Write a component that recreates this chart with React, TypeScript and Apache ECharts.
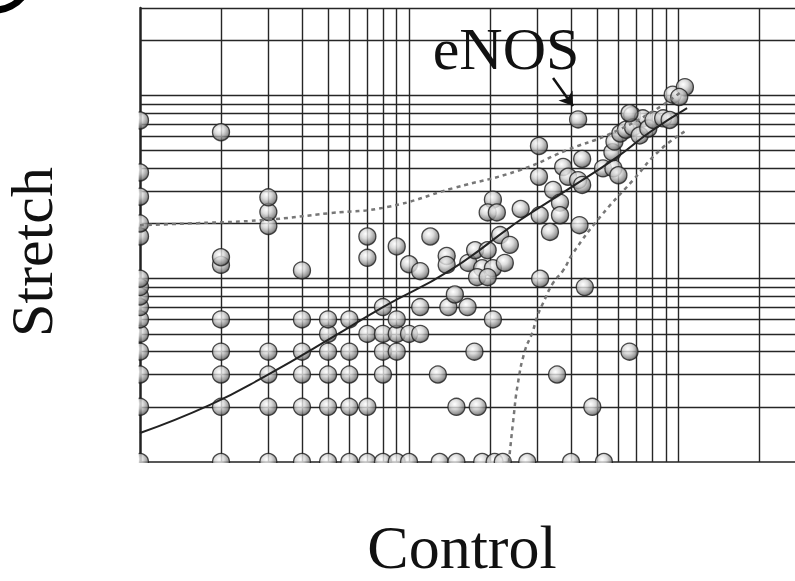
import React, { useEffect, useRef } from "react";
import * as echarts from "echarts";

// Log-grid lines (data values)
const xGridValues = [2, 3, 4, 5, 6, 7, 8, 9, 10, 20, 30, 40, 50, 60, 70, 80, 90, 100, 200];
const yGridValues = [2, 3, 4, 5, 6, 7, 8, 9, 10, 20, 30, 40, 50, 60, 70, 80, 90, 100, 200, 300];

// Points on the bottom row (Stretch = 1)
const bottomRowX = [1, 2, 3, 4, 5, 6, 7, 8, 9, 10, 13, 15, 18.7, 20.8, 22.3, 27.5, 40, 53];

// Columns of points at integer Control values: [x, list of Stretch values]
const columnX = [1, 2, 3, 4, 5, 6, 7, 8, 9, 10, 11];
const columnY: number[][] = [
  [2, 3, 4, 5, 6, 7, 8, 9, 10, 17, 20, 28, 38, 73],
  [2, 3, 4, 6, 11.9, 13.1, 63],
  [2, 3, 4, 19.4, 23.1, 27.8],
  [2, 3, 4, 6, 11.1],
  [2, 3, 4, 5, 6],
  [2, 3, 4, 6],
  [2, 5, 13, 17],
  [3, 4, 5, 7],
  [4, 5, 6, 15],
  [5, 12],
  [5, 7, 11],
];

// Remaining genes
const otherPoints: [number, number][] = [
  [12, 17], [12.8, 3], [13.8, 13.3], [13.8, 11.9], [14, 7], [14.8, 8.2], [15, 2],
  [16.5, 7], [16.6, 12.2], [17.5, 4], [17.6, 14.3], [18, 2], [19.6, 14.3],
  [18.7, 11.4], [20.5, 11.4], [22.7, 12.2], [17.9, 10.2], [19.6, 10.2],
  [21.8, 17.3], [23.7, 15.3], [20.5, 27], [19.6, 23], [21.2, 23], [26, 24], [20.5, 6],
  [30.4, 53], [30.4, 36], [34.3, 30.5], [36.4, 26], [36.4, 22.2], [30.6, 22.2],
  [33.4, 18], [43, 19.6], [44, 45], [37.4, 40.7], [39, 36], [42.5, 34.5], [44, 32.5],
  [52.6, 40], [57.5, 40], [60, 36.7], [57, 49], [58, 56], [61, 62], [64, 65],
  [67.5, 78], [74, 75], [68, 67], [72, 60.5], [77.5, 66], [81, 73.5], [88, 75],
  [93, 73.5], [95.5, 101], [106, 111], [101, 98], [66, 80],
  [30.7, 10], [45, 9], [66, 4], [35.5, 3], [48, 2],
];

// eNOS gene
const enosPoint: [number, number] = [42.5, 74];
const arrowFrom: [number, number] = [34.3, 124.5];
const arrowTo: [number, number] = [40.7, 87.5];

// Fit curve and confidence bands
const fitCurve: [number, number][] = [
  [1, 1.44], [1.82, 2.05], [2.97, 2.98], [5.22, 4.81], [8, 7], [14.2, 11.1],
  [25.9, 20.9], [38.7, 30.5], [59.3, 46.1], [78.7, 63.2], [108, 85.3],
];
const upperBand: [number, number][] = [
  [1, 19.6], [1.63, 20.1], [2.87, 20.9], [5.09, 22.8], [8.28, 24.6], [14.6, 31.2],
  [25.9, 39.2], [38.7, 50.4], [54.5, 60.8], [78.7, 80.2], [102, 104],
];
const lowerBand: [number, number][] = [
  [23.5, 1.0], [24.4, 1.69], [25.4, 2.7], [27, 4.08], [28.7, 5.06], [29.9, 6.18],
  [31.5, 7.37], [34.3, 9.48], [37.4, 11.1], [40.7, 13.8], [51.3, 21.7], [68, 34.5],
  [85.7, 50.4], [108, 64.7],
];

const X_MIN = 1;
const X_MAX = 272;
const Y_MIN = 1;
const Y_MAX = 300;

const FONT = "'Liberation Serif', 'DejaVu Serif', serif";

export default function App() {
  const ref = useRef<HTMLDivElement>(null);

  useEffect(() => {
    document.body.style.margin = "0";
    if (!ref.current) return;
    const chart = echarts.init(ref.current, undefined, { renderer: "svg" });

    const points: [number, number][] = [];
    bottomRowX.forEach((x) => points.push([x, 1]));
    columnX.forEach((x, i) => columnY[i].forEach((y) => points.push([x, y])));
    otherPoints.forEach((p) => points.push(p));
    points.push(enosPoint);

    const sphere = new echarts.graphic.RadialGradient(0.4, 0.34, 0.7, [
      { offset: 0, color: "#ffffff" },
      { offset: 0.4, color: "#d4d4d4" },
      { offset: 0.8, color: "#7e7e7e" },
      { offset: 1, color: "#2e2e2e" },
    ]);

    const gridLineStyle = { type: "solid", color: "#262626", width: 1.4 };

    chart.setOption({
      animation: false,
      grid: { left: 140, top: 8, right: 0, bottom: 119 },
      xAxis: {
        type: "log",
        logBase: 10,
        min: X_MIN,
        max: X_MAX,
        axisLine: { show: true, onZero: false, lineStyle: { color: "#222", width: 1.6 } },
        axisTick: { show: false },
        axisLabel: { show: false },
        splitLine: { show: false },
      },
      yAxis: {
        type: "log",
        logBase: 10,
        min: Y_MIN,
        max: Y_MAX,
        axisLine: { show: true, onZero: false, lineStyle: { color: "#222", width: 2.5 } },
        axisTick: { show: false },
        axisLabel: { show: false },
        splitLine: { show: false },
      },
      series: [
        {
          type: "line",
          name: "grid",
          data: [],
          silent: true,
          markLine: {
            z: 1,
            silent: true,
            symbol: ["none", "none"],
            label: { show: false },
            lineStyle: gridLineStyle,
            data: [
              ...xGridValues.map((v) => ({ xAxis: v })),
              ...yGridValues.map((v) => ({ yAxis: v })),
            ],
          },
        },
        {
          type: "scatter",
          name: "genes",
          data: points,
          symbol: "circle",
          symbolSize: 17,
          z: 3,
          itemStyle: { color: sphere, borderColor: "#1e1e1e", borderWidth: 1.3 },
        },
        {
          type: "line",
          name: "fit",
          data: fitCurve,
          smooth: true,
          symbol: "none",
          z: 5,
          lineStyle: { color: "#222", width: 2 },
        },
        {
          type: "line",
          name: "upper",
          data: upperBand,
          smooth: true,
          symbol: "none",
          z: 5,
          lineStyle: { color: "#777", width: 2.5, type: [4, 4] },
        },
        {
          type: "line",
          name: "lower",
          data: lowerBand,
          smooth: true,
          symbol: "none",
          z: 5,
          lineStyle: { color: "#777", width: 2.5, type: [4, 4] },
        },
        {
          type: "line",
          name: "arrow",
          data: [],
          silent: true,
          markLine: {
            z: 10,
            silent: true,
            symbol: ["none", "arrow"],
            symbolSize: 13,
            label: { show: false },
            lineStyle: { type: "solid", color: "#111", width: 2.5 },
            data: [[{ coord: arrowFrom }, { coord: arrowTo }]],
          },
        },
      ],
      graphic: [
        // masks that cut the spheres at the plot border (left and bottom)
        {
          type: "rect",
          z: 100,
          silent: true,
          shape: { x: 0, y: 0, width: 138.6, height: 581 },
          style: { fill: "#ffffff" },
        },
        {
          type: "rect",
          z: 100,
          silent: true,
          shape: { x: 0, y: 462.9, width: 795, height: 120 },
          style: { fill: "#ffffff" },
        },
        {
          type: "arc",
          z: 101,
          shape: { cx: -5, cy: -25, r: 35, startAngle: 0.6, endAngle: 1.6 },
          style: { stroke: "#000", lineWidth: 7, fill: "none" },
        },
        {
          type: "text",
          z: 101,
          x: 506,
          y: 49,
          style: {
            text: "eNOS",
            font: `60px ${FONT}`,
            fill: "#111",
            textAlign: "center",
            textVerticalAlign: "middle",
          },
        },
        {
          type: "text",
          z: 101,
          x: 462,
          y: 547,
          style: {
            text: "Control",
            font: `62px ${FONT}`,
            fill: "#111",
            textAlign: "center",
            textVerticalAlign: "middle",
          },
        },
        {
          type: "text",
          z: 101,
          x: 32,
          y: 252,
          rotation: Math.PI / 2,
          style: {
            text: "Stretch",
            font: `60px ${FONT}`,
            fill: "#111",
            textAlign: "center",
            textVerticalAlign: "middle",
          },
        },
      ],
    });

    return () => chart.dispose();
  }, []);

  return <div ref={ref} style={{ width: 795, height: 581 }} />;
}
